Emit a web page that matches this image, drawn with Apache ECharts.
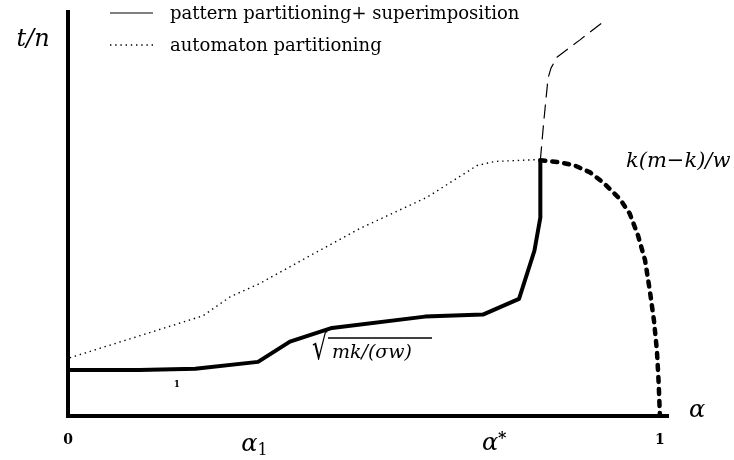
<!DOCTYPE html>
<html><head><meta charset="utf-8">
<script src="https://cdn.jsdelivr.net/npm/echarts@6/dist/echarts.min.js"></script>
<style>html,body{margin:0;padding:0;background:#fff}#c{width:734px;height:460px}</style>
</head><body><div id="c"></div>
<script>
// Data (alpha on x in [0,1], t/n on y in arbitrary units 0..100)
const patternX = [0, 0.12, 0.215, 0.321, 0.375, 0.446, 0.603, 0.701, 0.762, 0.788, 0.798, 0.798];
const patternY = [11.4, 11.4, 11.7, 13.4, 18.4, 21.8, 24.6, 25.1, 29.0, 40.9, 49.1, 63.3];
const boundX = [0.798, 0.831, 0.856, 0.882, 0.904, 0.932, 0.949, 0.963, 0.975, 0.983, 0.990, 0.995, 0.998, 1.0];
const boundY = [63.3, 62.8, 62.0, 60.3, 57.8, 53.8, 50.1, 44.7, 38.5, 31.0, 23.6, 16.1, 7.9, 0];
const upperX = [0.798, 0.804, 0.811, 0.816, 0.826, 0.865, 0.902];
const upperY = [63.3, 73.2, 83.6, 86.1, 88.8, 93.1, 97.3];
const autoX = [0.003, 0.122, 0.228, 0.274, 0.324, 0.409, 0.493, 0.606, 0.662, 0.691, 0.721, 0.798];
const autoY = [14.4, 19.9, 24.8, 29.5, 32.8, 39.7, 46.4, 54.1, 59.3, 62.0, 63.0, 63.5];
const tickValues = [0, 0.315, 0.72, 1];
const tickLabels = ['0', 'α1', 'α*', '1'];
const legendNames = ['pattern partitioning+ superimposition', 'automaton partitioning'];

const zip = (xs, ys) => xs.map((x, i) => [x, ys[i]]);
const serif = '"DejaVu Serif", "Liberation Serif", serif';

const chart = echarts.init(document.getElementById('c'), null, {renderer: 'canvas'});
const option = {
  animation: false,
  backgroundColor: '#fff',
  grid: {left: 68, top: 12, width: 599, height: 404, containLabel: false},
  xAxis: {
    type: 'value', min: 0, max: 1.012,
    axisLine: {show: true, onZero: false, lineStyle: {color: '#000', width: 4, cap: 'square'}},
    axisTick: {show: false},
    splitLine: {show: false},
    axisLabel: {
      customValues: tickValues,
      showMinLabel: true, showMaxLabel: true,
      margin: 15,
      color: '#000',
      formatter: function (v) {
        const i = tickValues.indexOf(v);
        const t = tickLabels[i];
        if (t === 'α1') return '{a|α}{s|1}';
        if (t === 'α*') return '{a|α}{st|*}';
        return '{n|' + t + '}';
      },
      rich: {
        n: {fontFamily: serif, fontSize: 14, fontWeight: 'bold', color: '#000', padding: [2, 0, 0, 0]},
        a: {fontFamily: serif, fontSize: 24, fontStyle: 'italic', color: '#000'},
        s: {fontFamily: serif, fontSize: 16, color: '#000', padding: [12, 0, 0, 0]},
        st: {fontFamily: serif, fontSize: 16, fontWeight: 'bold', color: '#000', padding: [0, 0, 10, 0]}
      }
    }
  },
  yAxis: {
    type: 'value', min: 0, max: 100,
    axisLine: {show: true, onZero: false, lineStyle: {color: '#000', width: 4, cap: 'square'}},
    axisTick: {show: false},
    axisLabel: {show: false},
    splitLine: {show: false}
  },
  series: [
    {name: legendNames[1], type: 'line', data: zip(autoX, autoY), showSymbol: false, symbol: 'none',
      lineStyle: {color: '#000', width: 1.4, type: [1.4, 3.8]}, z: 2},
    {name: 'upper', type: 'line', data: zip(upperX, upperY), showSymbol: false, symbol: 'none',
      lineStyle: {color: '#000', width: 1.2, type: [14, 7]}, z: 2},
    {name: 'bound', type: 'line', data: zip(boundX, boundY), showSymbol: false, symbol: 'none',
      lineStyle: {color: '#000', width: 4.5, type: [5, 7], cap: 'round', join: 'round'}, z: 3},
    {name: legendNames[0], type: 'line', data: zip(patternX, patternY), showSymbol: false, symbol: 'none',
      lineStyle: {color: '#000', width: 4, join: 'round'}, z: 4}
  ],
  graphic: [
    {type: 'line', shape: {x1: 110, y1: 13, x2: 153, y2: 13}, style: {stroke: '#000', lineWidth: 1.2}},
    {type: 'line', shape: {x1: 110, y1: 45, x2: 153, y2: 45}, style: {stroke: '#000', lineWidth: 1.4, lineDash: [1.4, 3.8]}},
    {type: 'text', x: 170, y: 14, style: {text: legendNames[0], font: '18px ' + serif, fill: '#000', verticalAlign: 'middle'}},
    {type: 'text', x: 170, y: 46, style: {text: legendNames[1], font: '18px ' + serif, fill: '#000', verticalAlign: 'middle'}},
    {type: 'text', x: 33, y: 40, style: {text: 't/n', font: 'italic 24px ' + serif, fill: '#000', align: 'center', verticalAlign: 'middle'}},
    {type: 'text', x: 697, y: 411, style: {text: 'α', font: 'italic 24px ' + serif, fill: '#000', align: 'center', verticalAlign: 'middle'}},
    {type: 'text', x: 626, y: 162, style: {text: 'k(m−k)/w', font: 'italic 21px ' + serif, fill: '#000', align: 'left', verticalAlign: 'middle'}},
    {type: 'text', x: 312, y: 350, scaleY: 1.45, originX: 0, originY: 0,
      style: {text: '√', font: '24px ' + serif, fill: '#000', align: 'left', verticalAlign: 'middle'}},
    {type: 'text', x: 332, y: 353, style: {text: 'mk/(σw)', font: 'italic 19px ' + serif, fill: '#000', align: 'left', verticalAlign: 'middle'}},
    {type: 'line', shape: {x1: 328, y1: 338, x2: 432, y2: 338}, style: {stroke: '#000', lineWidth: 1.4}},
    {type: 'text', x: 177, y: 385, style: {text: '1', font: 'bold 9px ' + serif, fill: '#000', align: 'center', verticalAlign: 'middle'}}
  ]
};
chart.setOption(option);
</script></body></html>
